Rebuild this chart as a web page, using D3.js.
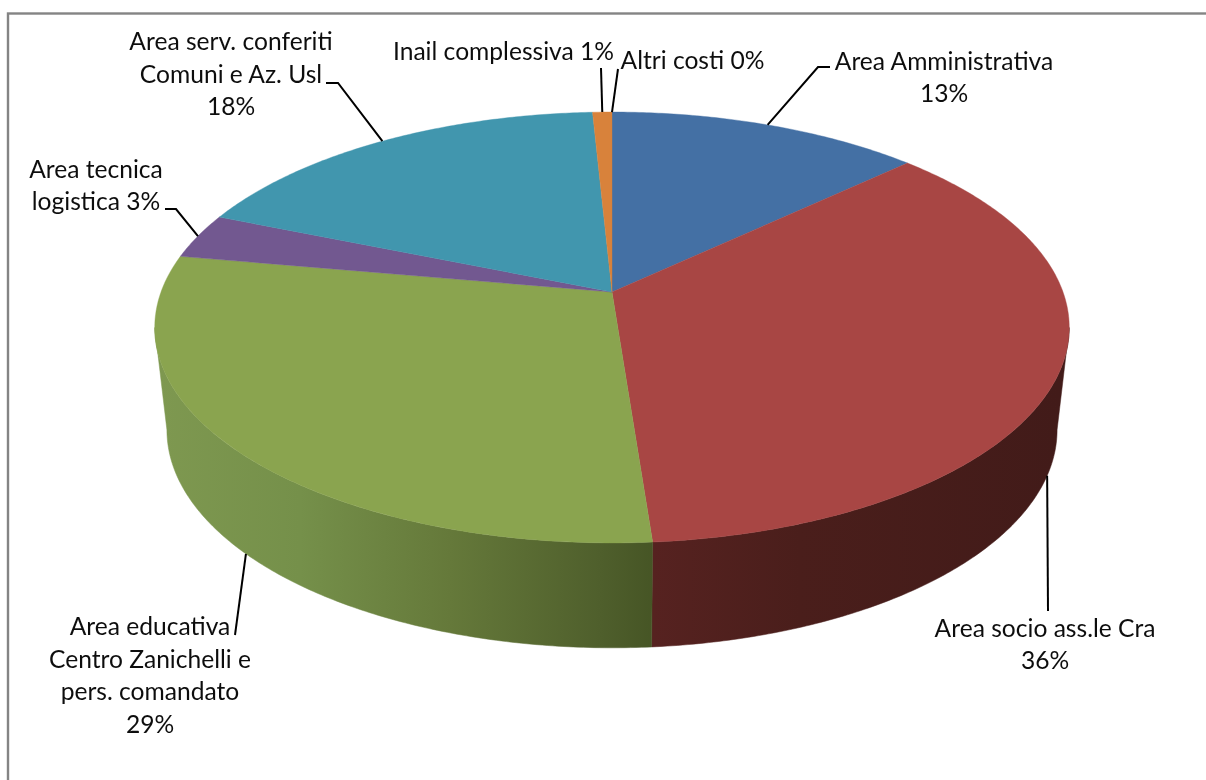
<!DOCTYPE html>
<html><head><meta charset="utf-8">
<script src="https://cdn.jsdelivr.net/npm/d3@7"></script>
<style>html,body{margin:0;padding:0;background:#fff;overflow:hidden}svg{display:block}text{font-family:Lato,"Open Sans",sans-serif;fill:#111}</style>
</head><body><div id="chart"></div>
<script>
const categories = ["Area Amministrativa","Area socio ass.le Cra","Area educativa Centro Zanichelli e pers. comandato","Area tecnica logistica","Area serv. conferiti Comuni e Az. Usl","Inail complessiva","Altri costi"];
const values = [13.0, 35.8, 29.0, 3.4, 18.0, 0.8, 0.0];
const labelLines = [
  ["Area Amministrativa","13%"],
  ["Area socio ass.le Cra","36%"],
  ["Area educativa","Centro Zanichelli e","pers. comandato","29%"],
  ["Area tecnica","logistica 3%"],
  ["Area serv. conferiti","Comuni e Az. Usl","18%"],
  ["Inail complessiva 1%"],
  ["Altri costi 0%"]
];
const topColors = ["#4470a4","#a84644","#8aa44f","#725890","#4196ae","#d8823b","#8fa8d0"];
// layout (separate from data)
const W=1206,H=780,k=0.1647;
const topFace={cx:612,cy:292,A:451,B:209.6}, baseFace={cx:612,cy:394,A:439,B:212};
const labelLayout=[
  {x:944,y:70,dy:32,end:[[818,67],[830,67]],face:"top"},
  {x:1045,y:637,dy:32,end:[[1048,611]],face:"base"},
  {x:150,y:635,dy:32.7,end:[[235,635]],face:"base"},
  {x:96,y:178,dy:32,end:[[176,209],[165,209]],face:"top"},
  {x:231,y:50,dy:32.5,end:[[338,83],[326,83]],face:"top"},
  {x:503.5,y:60,dy:32,end:[[601,68]],face:"top"},
  {x:692.5,y:69,dy:32,end:[[618,69]],face:"top"}
];
const project=(f,a)=>{const u=Math.sin(a),v=Math.cos(a),w=1+k*v;return [f.cx+f.A*u/w,f.cy-f.B*v/w];};
const arcPts=(f,a0,a1)=>{const n=Math.max(2,Math.ceil(Math.abs(a1-a0)/0.01));return d3.range(n+1).map(i=>project(f,a0+(a1-a0)*i/n));};
const line=d3.line();
const color=d3.scaleOrdinal().domain(categories).range(topColors);
const arcs=d3.pie().sort(null).startAngle(0).endAngle(2*Math.PI).value(d=>d)(values);
// the front of the drum runs between the two silhouette angles (widest points of the projected rim)
const frontStart=Math.PI-Math.acos(k), frontEnd=Math.PI+Math.acos(k);

const svg=d3.select("#chart").append("svg").attr("width",W).attr("height",H);
svg.append("rect").attr("x",8).attr("y",13.5).attr("width",W+20).attr("height",H+20).attr("fill","#fff").attr("stroke","#848484").attr("stroke-width",2.4);

const defs=svg.append("defs");
const grad=(id,stops)=>{const g=defs.append("linearGradient").attr("id",id).attr("gradientUnits","userSpaceOnUse").attr("x1",160).attr("x2",1060).attr("y1",0).attr("y2",0);
  stops.forEach(s=>g.append("stop").attr("offset",(s[0]-160)/900).attr("stop-color",s[1]));};
grad("wallGreen",[[160,"#7e9850"],[300,"#75904a"],[450,"#65793a"],[600,"#4f5f2c"],[654,"#465525"]]);
grad("wallRed",[[654,"#562220"],[800,"#4a1e1b"],[1060,"#421b19"]]);
defs.append("filter").attr("id","soft").attr("x","-5%").attr("y","-20%").attr("width","110%").attr("height","140%")
  .append("feGaussianBlur").attr("stdDeviation",0.35);
const wallFill=["#2b4567","url(#wallRed)","url(#wallGreen)","#45355a","#285c6b","#85501f","#555"];

// side walls: only the part of each slice on the front of the drum
const frontArcs=arcs.map(d=>({index:d.index,a0:Math.max(d.startAngle,frontStart),a1:Math.min(d.endAngle,frontEnd)})).filter(d=>d.a1>d.a0);
svg.append("g").selectAll("path").data(frontArcs).join("path")
  .attr("d",d=>line([...arcPts(topFace,d.a0,d.a1),...arcPts(baseFace,d.a1,d.a0)])+"Z")
  .attr("fill",d=>wallFill[d.index]).attr("stroke",d=>wallFill[d.index]).attr("stroke-width",0.5);

// top face
svg.append("g").selectAll("path").data(arcs.filter(d=>d.endAngle>d.startAngle)).join("path")
  .attr("d",d=>line([[topFace.cx,topFace.cy],...arcPts(topFace,d.startAngle,d.endAngle)])+"Z")
  .attr("fill",d=>color(categories[d.index])).attr("stroke",d=>color(categories[d.index])).attr("stroke-width",0.4);

// leaders
svg.append("g").selectAll("path").data(arcs).join("path")
  .attr("d",d=>{const l=labelLayout[d.index],f=l.face==="top"?topFace:baseFace;
    return line([project(f,(d.startAngle+d.endAngle)/2),...l.end]);})
  .attr("fill","none").attr("stroke","#000").attr("stroke-width",2);

// labels
const lg=svg.append("g").attr("font-size",24.6).attr("text-anchor","middle").attr("filter","url(#soft)");
labelLines.forEach((lines,i)=>{const l=labelLayout[i];
  lg.append("g").selectAll("text").data(lines).join("text")
    .attr("x",l.x).attr("y",(d,j)=>l.y+j*l.dy).text(d=>d);
});
</script></body></html>
